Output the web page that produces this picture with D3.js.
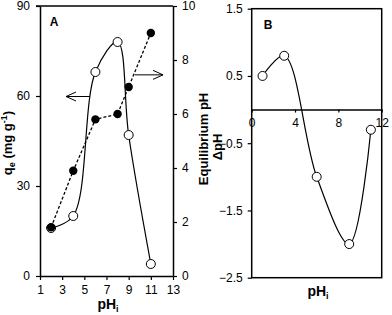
<!DOCTYPE html>
<html><head><meta charset="utf-8">
<script src="https://cdn.jsdelivr.net/npm/d3@7"></script>
<style>body{margin:0;background:#fff}svg{display:block}text{font-family:"Liberation Sans",Arial,sans-serif}</style>
</head><body>
<svg id="c" width="392" height="315"></svg>
<script>
// Panel A data
const phA = [2, 4, 6, 8, 9, 11];
const qe = [16, 20, 68, 78, 47, 4];
const eqPH = [1.8, 3.9, 5.8, 6.0, 7.0, 9.0];
const xTicksA = [1, 3, 5, 7, 9, 11, 13];
const yTicksA = [0, 30, 60, 90];
const y2TicksA = [0, 2, 4, 6, 8, 10];
// Panel B data
const phB = [1, 3, 6, 9, 11];
const dPH = [0.5, 0.8, -1.0, -2.0, -0.3];
const xTicksB = [0, 4, 8, 12];
const yTicksB = [1.5, 0.5, -0.5, -1.5, -2.5];

const svg = d3.select("#c");
const fs = 12;
const smooth = d3.curveCatmullRom.alpha(0.5);

// ---------- Panel A ----------
const xA = d3.scaleLinear().domain([1, 13]).range([40, 173]);
const yA = d3.scaleLinear().domain([0, 90]).range([276, 6]);
const y2A = d3.scaleLinear().domain([0, 10]).range([276, 6]);
const gA = svg.append("g");

gA.append("line").attr("x1", 36).attr("x2", 173).attr("y1", 6).attr("y2", 6).attr("stroke", "#000").attr("stroke-width", 1.5);

function styleAxis(g) {
  g.selectAll("path").attr("stroke", "#000").attr("stroke-width", 1.5);
  g.selectAll("line").attr("stroke", "#000").attr("stroke-width", 1.2);
  g.selectAll("text").attr("font-size", fs).attr("fill", "#000").attr("font-family", "Liberation Sans, Arial, sans-serif");
}
const axLA = gA.append("g").attr("transform", "translate(40,0)")
  .call(d3.axisLeft(yA).tickValues(yTicksA).tickSize(4).tickSizeOuter(0).tickPadding(6));
styleAxis(axLA);
const axRA = gA.append("g").attr("transform", "translate(173,0)")
  .call(d3.axisRight(y2A).tickValues(y2TicksA).tickSize(4).tickSizeOuter(0).tickPadding(5));
styleAxis(axRA);
const axBA = gA.append("g").attr("transform", "translate(0,276)")
  .call(d3.axisBottom(xA).tickValues(xTicksA).tickSize(4).tickSizeOuter(0).tickPadding(5));
styleAxis(axBA);

gA.append("path").datum(phA.map((p, i) => [p, qe[i]]))
  .attr("fill", "none").attr("stroke", "#000").attr("stroke-width", 1.2)
  .attr("d", d3.line().x(d => xA(d[0])).y(d => yA(d[1])).curve(smooth));
gA.append("path").datum(phA.map((p, i) => [p, eqPH[i]]))
  .attr("fill", "none").attr("stroke", "#000").attr("stroke-width", 1.3).attr("stroke-dasharray", "3,2")
  .attr("d", d3.line().x(d => xA(d[0])).y(d => y2A(d[1])));

gA.selectAll("circle.o").data(phA.map((p, i) => [p, qe[i]])).join("circle")
  .attr("cx", d => xA(d[0])).attr("cy", d => yA(d[1])).attr("r", 4.5)
  .attr("fill", "#fff").attr("stroke", "#000").attr("stroke-width", 1);
gA.selectAll("circle.f").data(phA.map((p, i) => [p, eqPH[i]])).join("circle")
  .attr("cx", d => xA(d[0])).attr("cy", d => y2A(d[1])).attr("r", 4.2)
  .attr("fill", "#000");

function arrow(x1, x2, y) {
  const dir = x2 < x1 ? 1 : -1;
  gA.append("line").attr("x1", x1).attr("x2", x2).attr("y1", y).attr("y2", y).attr("stroke", "#000").attr("stroke-width", 1);
  gA.append("path").attr("d", `M${x2 + dir * 10},${y - 4.5}L${x2},${y}L${x2 + dir * 10},${y + 4.5}`)
    .attr("fill", "none").attr("stroke", "#000").attr("stroke-width", 1);
}
arrow(xA(5.5), xA(3.35), yA(60) + 0.5);
arrow(xA(9.55), xA(12.1), y2A(7.45));

gA.append("text").attr("x", 54).attr("y", 26).attr("font-size", 12).attr("font-weight", "bold").attr("text-anchor", "middle").text("A");

const tA = gA.append("text").attr("x", 108).attr("y", 309).attr("font-size", 14).attr("font-weight", "bold").attr("text-anchor", "middle");
tA.append("tspan").text("pH");
tA.append("tspan").attr("font-size", 9).attr("dy", 3).text("i");

const tL = gA.append("text").attr("transform", "translate(12,143) rotate(-90)").attr("font-size", 13).attr("font-weight", "bold").attr("text-anchor", "middle");
tL.append("tspan").text("q");
tL.append("tspan").attr("font-size", 9).attr("dy", 3).text("e");
tL.append("tspan").attr("dy", -3).text(" (mg g");
tL.append("tspan").attr("font-size", 9).attr("dy", -5).text("-1");
tL.append("tspan").attr("dy", 5).text(")");

gA.append("text").attr("transform", "translate(208,139) rotate(-90)").attr("font-size", 13).attr("font-weight", "bold").attr("text-anchor", "middle").text("Equilibrium pH");

// ---------- Panel B ----------
const xB = d3.scaleLinear().domain([0, 12]).range([251.7, 381.7]);
const yB = d3.scaleLinear().domain([-2.5, 1.5]).range([277.7, 8.7]);
const gB = svg.append("g");
gB.append("rect").attr("x", 251.7).attr("y", 8.7).attr("width", 130).attr("height", 269).attr("fill", "none").attr("stroke", "#000").attr("stroke-width", 1.5);
const axLB = gB.append("g").attr("transform", "translate(251.7,0)")
  .call(d3.axisLeft(yB).tickValues(yTicksB).tickFormat(d3.format(".1f")).tickSize(4).tickSizeOuter(0).tickPadding(5));
styleAxis(axLB);
axLB.select("path").remove();
const axZB = gB.append("g").attr("transform", `translate(0,${yB(0)})`)
  .call(d3.axisBottom(xB).tickValues(xTicksB).tickSize(3).tickSizeOuter(0).tickPadding(6));
styleAxis(axZB);

gB.append("path").datum(phB.map((p, i) => [p, dPH[i]]))
  .attr("fill", "none").attr("stroke", "#000").attr("stroke-width", 1.2)
  .attr("d", d3.line().x(d => xB(d[0])).y(d => yB(d[1])).curve(smooth));
gB.selectAll("circle").data(phB.map((p, i) => [p, dPH[i]])).join("circle")
  .attr("cx", d => xB(d[0])).attr("cy", d => yB(d[1])).attr("r", 4.5)
  .attr("fill", "#fff").attr("stroke", "#000").attr("stroke-width", 1);

gB.append("text").attr("x", 268).attr("y", 29).attr("font-size", 12).attr("font-weight", "bold").attr("text-anchor", "middle").text("B");

const tB = gB.append("text").attr("x", 318).attr("y", 296).attr("font-size", 14).attr("font-weight", "bold").attr("text-anchor", "middle");
tB.append("tspan").text("pH");
tB.append("tspan").attr("font-size", 9).attr("dy", 3).text("i");

gB.append("text").attr("transform", "translate(222,147) rotate(-90)").attr("font-size", 13).attr("font-weight", "bold").attr("text-anchor", "middle").text("ΔpH");
</script>
</body></html>
